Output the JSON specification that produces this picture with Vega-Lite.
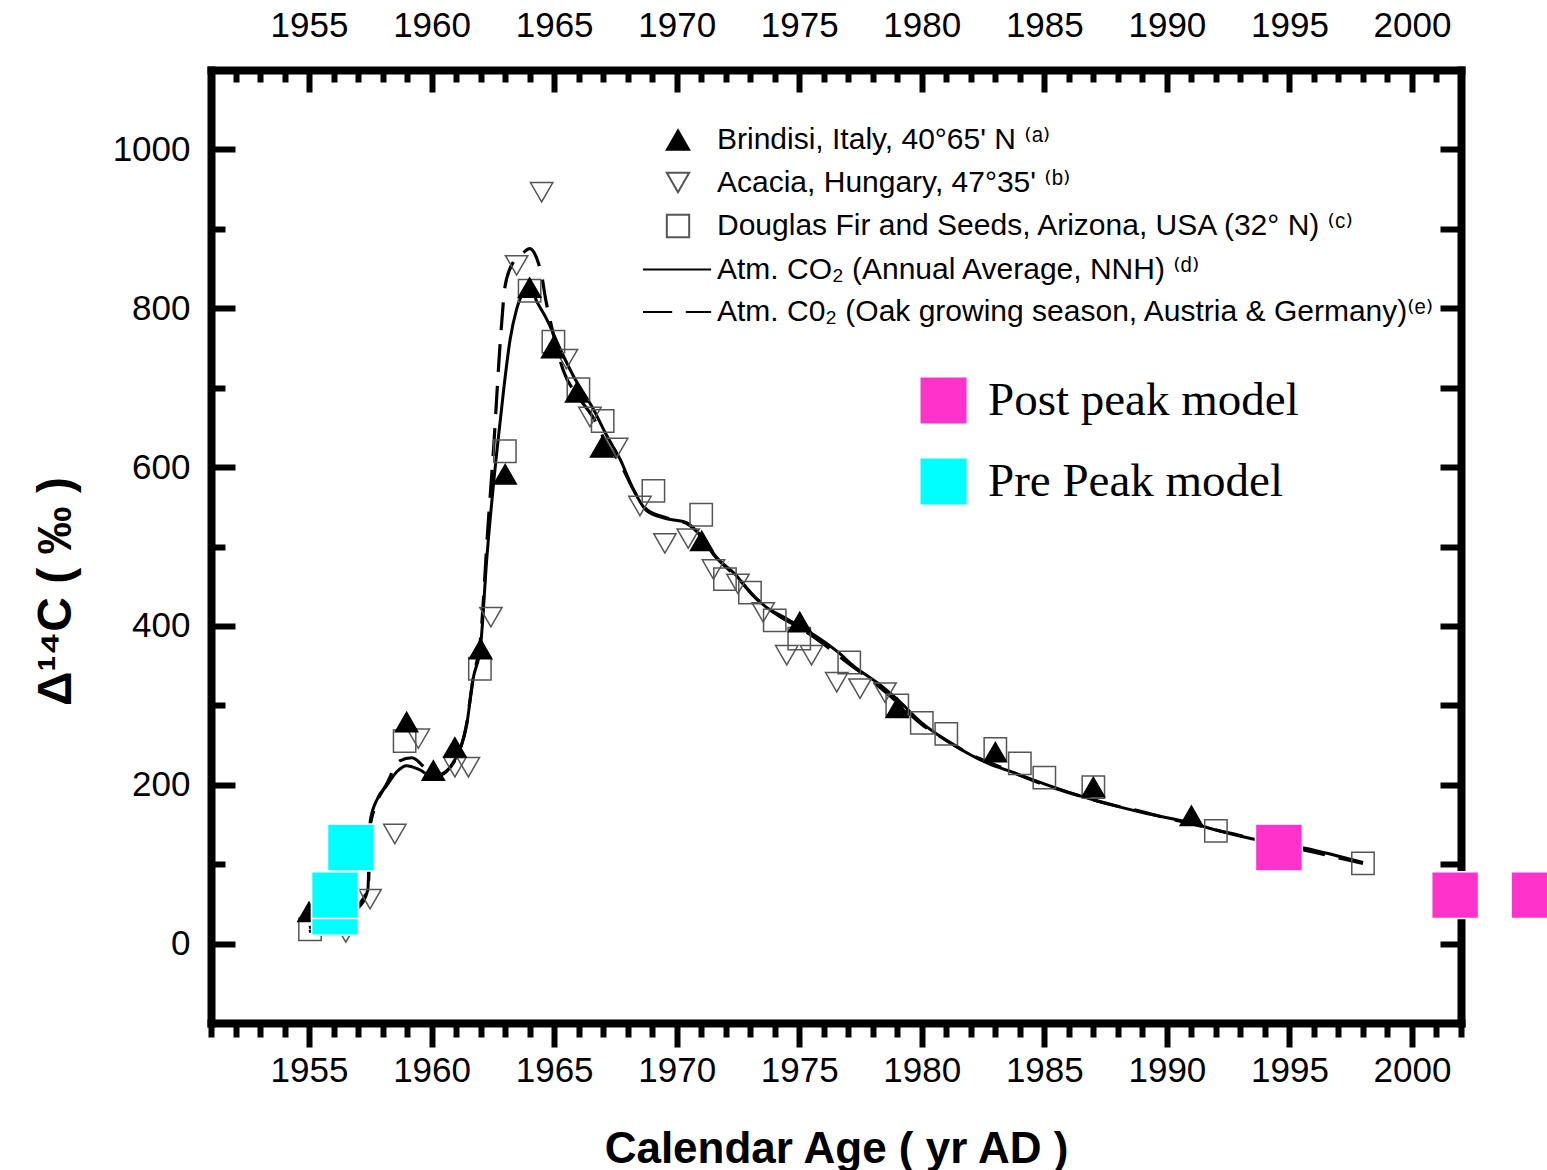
{
  "$schema": "https://vega.github.io/schema/vega-lite/v6.json",
  "usermeta": {"embedOptions": {"actions": false}},
  "width": 1250,
  "height": 953,
  "autosize": {"type": "none"},
  "padding": {"left": 211, "top": 70, "right": 86, "bottom": 147},
  "background": "white",
  "config": {
    "view": {"stroke": null},
    "axis": {
      "grid": false,
      "labelFont": "Liberation Sans",
      "labelFontSize": 35,
      "labelColor": "black",
      "labelOverlap": false,
      "labelFlush": false,
      "tickColor": "black",
      "tickWidth": 6,
      "domainColor": "black",
      "domainWidth": 8,
      "domainCap": "square",
      "titleColor": "black",
      "format": "d"
    }
  },
  "datasets": {
    "solid": [
      {"year": 1955, "d14c": 20}, {"year": 1956, "d14c": 30}, {"year": 1957, "d14c": 45},
      {"year": 1957.4, "d14c": 68}, {"year": 1957.45, "d14c": 110}, {"year": 1957.5, "d14c": 155},
      {"year": 1957.8, "d14c": 183}, {"year": 1958.17, "d14c": 199}, {"year": 1958.6, "d14c": 217},
      {"year": 1958.98, "d14c": 224}, {"year": 1959.5, "d14c": 219}, {"year": 1960.07, "d14c": 210},
      {"year": 1960.5, "d14c": 214}, {"year": 1960.9, "d14c": 229}, {"year": 1961.2, "d14c": 248},
      {"year": 1961.43, "d14c": 275}, {"year": 1961.69, "d14c": 333}, {"year": 1962.0, "d14c": 375},
      {"year": 1962.25, "d14c": 484}, {"year": 1962.66, "d14c": 619}, {"year": 1962.95, "d14c": 700},
      {"year": 1963.2, "d14c": 760}, {"year": 1963.47, "d14c": 799}, {"year": 1963.74, "d14c": 820},
      {"year": 1964.0, "d14c": 827}, {"year": 1964.3, "d14c": 808}, {"year": 1964.7, "d14c": 786},
      {"year": 1965.24, "d14c": 749}, {"year": 1965.78, "d14c": 715}, {"year": 1966.6, "d14c": 673},
      {"year": 1967.14, "d14c": 640}, {"year": 1967.69, "d14c": 610}, {"year": 1968.23, "d14c": 572},
      {"year": 1968.78, "d14c": 545}, {"year": 1969.6, "d14c": 535}, {"year": 1970.4, "d14c": 530},
      {"year": 1970.96, "d14c": 514}, {"year": 1971.5, "d14c": 490}, {"year": 1972.45, "d14c": 463},
      {"year": 1973.06, "d14c": 440}, {"year": 1973.6, "d14c": 425}, {"year": 1974.49, "d14c": 409},
      {"year": 1975.44, "d14c": 392}, {"year": 1976.66, "d14c": 365}, {"year": 1977.2, "d14c": 350},
      {"year": 1978.16, "d14c": 329}, {"year": 1978.98, "d14c": 308}, {"year": 1980.0, "d14c": 278},
      {"year": 1981.15, "d14c": 253}, {"year": 1982.78, "d14c": 226}, {"year": 1983.5, "d14c": 218},
      {"year": 1985.37, "d14c": 197}, {"year": 1987.1, "d14c": 180}, {"year": 1989.0, "d14c": 165},
      {"year": 1991.08, "d14c": 151}, {"year": 1992.0, "d14c": 143}, {"year": 1993.46, "d14c": 132},
      {"year": 1995.64, "d14c": 120}, {"year": 1998.0, "d14c": 102}
    ],
    "dashed": [
      {"year": 1955, "d14c": 15}, {"year": 1956, "d14c": 28}, {"year": 1957, "d14c": 48},
      {"year": 1957.42, "d14c": 72}, {"year": 1957.5, "d14c": 150}, {"year": 1958.2, "d14c": 203},
      {"year": 1958.7, "d14c": 230}, {"year": 1959.2, "d14c": 234}, {"year": 1959.7, "d14c": 222},
      {"year": 1960.1, "d14c": 211}, {"year": 1960.6, "d14c": 217}, {"year": 1961.0, "d14c": 234},
      {"year": 1961.4, "d14c": 272}, {"year": 1961.7, "d14c": 335}, {"year": 1962.0, "d14c": 385},
      {"year": 1962.3, "d14c": 525}, {"year": 1962.52, "d14c": 619}, {"year": 1962.8, "d14c": 757},
      {"year": 1963.0, "d14c": 828}, {"year": 1963.33, "d14c": 858}, {"year": 1963.74, "d14c": 870},
      {"year": 1964.0, "d14c": 875}, {"year": 1964.3, "d14c": 862}, {"year": 1964.5, "d14c": 840},
      {"year": 1964.65, "d14c": 812}, {"year": 1964.8, "d14c": 790}, {"year": 1965.37, "d14c": 722},
      {"year": 1966.0, "d14c": 688}, {"year": 1966.6, "d14c": 662}, {"year": 1967.1, "d14c": 632},
      {"year": 1967.7, "d14c": 604}, {"year": 1968.3, "d14c": 568}, {"year": 1968.8, "d14c": 546},
      {"year": 1969.6, "d14c": 536}, {"year": 1970.4, "d14c": 529}, {"year": 1971.0, "d14c": 513},
      {"year": 1971.6, "d14c": 487}, {"year": 1972.5, "d14c": 460}, {"year": 1973.3, "d14c": 433},
      {"year": 1974.2, "d14c": 412}, {"year": 1975.0, "d14c": 398}, {"year": 1976.0, "d14c": 377},
      {"year": 1977.0, "d14c": 353}, {"year": 1978.0, "d14c": 330}, {"year": 1979.0, "d14c": 304},
      {"year": 1980.0, "d14c": 276}, {"year": 1981.0, "d14c": 256}, {"year": 1982.0, "d14c": 238},
      {"year": 1983.0, "d14c": 225}, {"year": 1984.0, "d14c": 212}, {"year": 1985.0, "d14c": 200},
      {"year": 1986.0, "d14c": 190}, {"year": 1987.0, "d14c": 181}, {"year": 1988.0, "d14c": 173},
      {"year": 1989.0, "d14c": 166}, {"year": 1990.0, "d14c": 158}, {"year": 1991.0, "d14c": 151},
      {"year": 1992.0, "d14c": 143}, {"year": 1993.0, "d14c": 136}, {"year": 1994.0, "d14c": 128},
      {"year": 1995.0, "d14c": 122}, {"year": 1996.0, "d14c": 115}, {"year": 1997.0, "d14c": 108},
      {"year": 1998.0, "d14c": 101}
    ],
    "points": [
      {"series": "Douglas Fir and Seeds, Arizona, USA (32° N) ⁽ᶜ⁾", "year": 1955.04, "d14c": 18},
      {"series": "Douglas Fir and Seeds, Arizona, USA (32° N) ⁽ᶜ⁾", "year": 1958.9, "d14c": 255},
      {"series": "Douglas Fir and Seeds, Arizona, USA (32° N) ⁽ᶜ⁾", "year": 1961.97, "d14c": 346},
      {"series": "Douglas Fir and Seeds, Arizona, USA (32° N) ⁽ᶜ⁾", "year": 1962.99, "d14c": 620},
      {"series": "Douglas Fir and Seeds, Arizona, USA (32° N) ⁽ᶜ⁾", "year": 1964.0, "d14c": 822},
      {"series": "Douglas Fir and Seeds, Arizona, USA (32° N) ⁽ᶜ⁾", "year": 1964.97, "d14c": 758},
      {"series": "Douglas Fir and Seeds, Arizona, USA (32° N) ⁽ᶜ⁾", "year": 1965.99, "d14c": 698},
      {"series": "Douglas Fir and Seeds, Arizona, USA (32° N) ⁽ᶜ⁾", "year": 1966.98, "d14c": 658},
      {"series": "Douglas Fir and Seeds, Arizona, USA (32° N) ⁽ᶜ⁾", "year": 1969.05, "d14c": 570},
      {"series": "Douglas Fir and Seeds, Arizona, USA (32° N) ⁽ᶜ⁾", "year": 1971.0, "d14c": 540},
      {"series": "Douglas Fir and Seeds, Arizona, USA (32° N) ⁽ᶜ⁾", "year": 1971.97, "d14c": 459},
      {"series": "Douglas Fir and Seeds, Arizona, USA (32° N) ⁽ᶜ⁾", "year": 1972.99, "d14c": 442},
      {"series": "Douglas Fir and Seeds, Arizona, USA (32° N) ⁽ᶜ⁾", "year": 1974.0, "d14c": 407},
      {"series": "Douglas Fir and Seeds, Arizona, USA (32° N) ⁽ᶜ⁾", "year": 1975.0, "d14c": 384},
      {"series": "Douglas Fir and Seeds, Arizona, USA (32° N) ⁽ᶜ⁾", "year": 1977.04, "d14c": 354},
      {"series": "Douglas Fir and Seeds, Arizona, USA (32° N) ⁽ᶜ⁾", "year": 1979.0, "d14c": 300},
      {"series": "Douglas Fir and Seeds, Arizona, USA (32° N) ⁽ᶜ⁾", "year": 1980.0, "d14c": 278},
      {"series": "Douglas Fir and Seeds, Arizona, USA (32° N) ⁽ᶜ⁾", "year": 1981.0, "d14c": 264},
      {"series": "Douglas Fir and Seeds, Arizona, USA (32° N) ⁽ᶜ⁾", "year": 1983.0, "d14c": 245},
      {"series": "Douglas Fir and Seeds, Arizona, USA (32° N) ⁽ᶜ⁾", "year": 1984.0, "d14c": 227},
      {"series": "Douglas Fir and Seeds, Arizona, USA (32° N) ⁽ᶜ⁾", "year": 1985.0, "d14c": 209},
      {"series": "Douglas Fir and Seeds, Arizona, USA (32° N) ⁽ᶜ⁾", "year": 1987.0, "d14c": 197},
      {"series": "Douglas Fir and Seeds, Arizona, USA (32° N) ⁽ᶜ⁾", "year": 1992.0, "d14c": 142},
      {"series": "Douglas Fir and Seeds, Arizona, USA (32° N) ⁽ᶜ⁾", "year": 1998.0, "d14c": 101},
      {"series": "Acacia, Hungary, 47°35' ⁽ᵇ⁾", "year": 1956.5, "d14c": 14},
      {"series": "Acacia, Hungary, 47°35' ⁽ᵇ⁾", "year": 1957.49, "d14c": 56},
      {"series": "Acacia, Hungary, 47°35' ⁽ᵇ⁾", "year": 1958.5, "d14c": 138},
      {"series": "Acacia, Hungary, 47°35' ⁽ᵇ⁾", "year": 1959.46, "d14c": 258},
      {"series": "Acacia, Hungary, 47°35' ⁽ᵇ⁾", "year": 1960.95, "d14c": 222},
      {"series": "Acacia, Hungary, 47°35' ⁽ᵇ⁾", "year": 1961.5, "d14c": 222},
      {"series": "Acacia, Hungary, 47°35' ⁽ᵇ⁾", "year": 1962.42, "d14c": 411},
      {"series": "Acacia, Hungary, 47°35' ⁽ᵇ⁾", "year": 1963.47, "d14c": 854},
      {"series": "Acacia, Hungary, 47°35' ⁽ᵇ⁾", "year": 1964.49, "d14c": 946},
      {"series": "Acacia, Hungary, 47°35' ⁽ᵇ⁾", "year": 1965.5, "d14c": 736},
      {"series": "Acacia, Hungary, 47°35' ⁽ᵇ⁾", "year": 1966.46, "d14c": 663},
      {"series": "Acacia, Hungary, 47°35' ⁽ᵇ⁾", "year": 1967.55, "d14c": 624},
      {"series": "Acacia, Hungary, 47°35' ⁽ᵇ⁾", "year": 1968.5, "d14c": 551},
      {"series": "Acacia, Hungary, 47°35' ⁽ᵇ⁾", "year": 1969.52, "d14c": 504},
      {"series": "Acacia, Hungary, 47°35' ⁽ᵇ⁾", "year": 1970.47, "d14c": 510},
      {"series": "Acacia, Hungary, 47°35' ⁽ᵇ⁾", "year": 1971.5, "d14c": 471},
      {"series": "Acacia, Hungary, 47°35' ⁽ᵇ⁾", "year": 1972.5, "d14c": 453},
      {"series": "Acacia, Hungary, 47°35' ⁽ᵇ⁾", "year": 1973.53, "d14c": 417},
      {"series": "Acacia, Hungary, 47°35' ⁽ᵇ⁾", "year": 1974.49, "d14c": 363},
      {"series": "Acacia, Hungary, 47°35' ⁽ᵇ⁾", "year": 1975.5, "d14c": 363},
      {"series": "Acacia, Hungary, 47°35' ⁽ᵇ⁾", "year": 1976.53, "d14c": 329},
      {"series": "Acacia, Hungary, 47°35' ⁽ᵇ⁾", "year": 1977.48, "d14c": 321},
      {"series": "Acacia, Hungary, 47°35' ⁽ᵇ⁾", "year": 1978.5, "d14c": 316},
      {"series": "Brindisi, Italy, 40°65' N ⁽ᵃ⁾", "year": 1955.0, "d14c": 40},
      {"series": "Brindisi, Italy, 40°65' N ⁽ᵃ⁾", "year": 1958.98, "d14c": 279},
      {"series": "Brindisi, Italy, 40°65' N ⁽ᵃ⁾", "year": 1960.07, "d14c": 218},
      {"series": "Brindisi, Italy, 40°65' N ⁽ᵃ⁾", "year": 1960.95, "d14c": 247},
      {"series": "Brindisi, Italy, 40°65' N ⁽ᵃ⁾", "year": 1962.0, "d14c": 371},
      {"series": "Brindisi, Italy, 40°65' N ⁽ᵃ⁾", "year": 1963.0, "d14c": 591},
      {"series": "Brindisi, Italy, 40°65' N ⁽ᵃ⁾", "year": 1964.0, "d14c": 826},
      {"series": "Brindisi, Italy, 40°65' N ⁽ᵃ⁾", "year": 1964.94, "d14c": 750},
      {"series": "Brindisi, Italy, 40°65' N ⁽ᵃ⁾", "year": 1965.92, "d14c": 694},
      {"series": "Brindisi, Italy, 40°65' N ⁽ᵃ⁾", "year": 1966.94, "d14c": 625},
      {"series": "Brindisi, Italy, 40°65' N ⁽ᵃ⁾", "year": 1971.02, "d14c": 507},
      {"series": "Brindisi, Italy, 40°65' N ⁽ᵃ⁾", "year": 1975.02, "d14c": 405},
      {"series": "Brindisi, Italy, 40°65' N ⁽ᵃ⁾", "year": 1979.0, "d14c": 297},
      {"series": "Brindisi, Italy, 40°65' N ⁽ᵃ⁾", "year": 1983.0, "d14c": 241},
      {"series": "Brindisi, Italy, 40°65' N ⁽ᵃ⁾", "year": 1987.0, "d14c": 197},
      {"series": "Brindisi, Italy, 40°65' N ⁽ᵃ⁾", "year": 1991.0, "d14c": 161}
    ],
    "models": [
      {"model": "Pre Peak model", "year": 1956.06, "d14c": 40},
      {"model": "Pre Peak model", "year": 1956.06, "d14c": 61},
      {"model": "Pre Peak model", "year": 1956.71, "d14c": 121},
      {"model": "Post peak model", "year": 1994.57, "d14c": 121},
      {"model": "Post peak model", "year": 2001.76, "d14c": 61},
      {"model": "Post peak model", "year": 2005.0, "d14c": 61}
    ]
  },
  "resolve": {"axis": {"x": "independent", "y": "independent"}},
  "layer": [
    {
      "data": {"name": "solid"},
      "mark": {"type": "line", "color": "black", "strokeWidth": 3, "interpolate": "monotone"},
      "encoding": {
        "x": {
          "field": "year", "type": "quantitative",
          "scale": {"domain": [1951, 2002], "nice": false, "zero": false},
          "axis": {
            "orient": "bottom",
            "values": [1955, 1960, 1965, 1970, 1975, 1980, 1985, 1990, 1995, 2000],
            "tickSize": 24, "labelPadding": 34, "labelBaseline": "alphabetic",
            "title": "Calendar Age ( yr AD )",
            "titleFont": "Liberation Sans", "titleFontSize": 44, "titleFontWeight": "bold",
            "titleBaseline": "alphabetic", "titleY": 139
          }
        },
        "y": {
          "field": "d14c", "type": "quantitative",
          "scale": {"domain": [-100, 1100], "nice": false, "zero": false},
          "axis": {
            "orient": "left",
            "values": [0, 200, 400, 600, 800, 1000],
            "tickSize": -24, "labelPadding": 45,
            "title": "Δ¹⁴C  ( ‰ )",
            "titleFont": "Liberation Sans", "titleFontSize": 48, "titleFontWeight": "bold",
            "titleAngle": -90, "titleAlign": "center", "titleBaseline": "middle",
            "titleX": -155, "titleY": 521
          }
        }
      }
    },
    {
      "data": {"name": "dashed"},
      "mark": {"type": "line", "color": "black", "strokeWidth": 3.2, "strokeDash": [28, 14], "interpolate": "monotone"},
      "encoding": {
        "x": {
          "field": "year", "type": "quantitative",
          "scale": {"domain": [1951, 2002], "nice": false, "zero": false},
          "axis": {
            "orient": "top",
            "values": [1955, 1960, 1965, 1970, 1975, 1980, 1985, 1990, 1995, 2000],
            "tickSize": -22, "labelPadding": 56, "labelBaseline": "alphabetic",
            "title": null
          }
        },
        "y": {
          "field": "d14c", "type": "quantitative",
          "scale": {"domain": [-100, 1100], "nice": false, "zero": false},
          "axis": {
            "orient": "right",
            "values": [0, 100, 200, 300, 400, 500, 600, 700, 800, 900, 1000],
            "tickSize": -21, "labels": false,
            "title": null
          }
        }
      }
    },
    {
      "data": {"name": "points"},
      "mark": {"type": "point", "size": 500, "strokeWidth": 1.5, "opacity": 1},
      "encoding": {
        "x": {
          "field": "year", "type": "quantitative",
          "scale": {"domain": [1951, 2002], "nice": false, "zero": false},
          "axis": {
            "orient": "bottom",
            "values": [1951, 1952, 1953, 1954, 1956, 1957, 1958, 1959, 1961, 1962, 1963, 1964, 1966, 1967, 1968, 1969, 1971, 1972, 1973, 1974, 1976, 1977, 1978, 1979, 1981, 1982, 1983, 1984, 1986, 1987, 1988, 1989, 1991, 1992, 1993, 1994, 1996, 1997, 1998, 1999, 2001, 2002],
            "tickSize": 14, "labels": false, "domain": false, "title": null
          }
        },
        "y": {
          "field": "d14c", "type": "quantitative",
          "scale": {"domain": [-100, 1100], "nice": false, "zero": false},
          "axis": {
            "orient": "left",
            "values": [100, 300, 500, 700, 900],
            "tickSize": -14, "labels": false, "domain": false, "title": null
          }
        },
        "shape": {
          "field": "series", "type": "nominal",
          "scale": {
            "domain": ["Brindisi, Italy, 40°65' N ⁽ᵃ⁾", "Acacia, Hungary, 47°35' ⁽ᵇ⁾", "Douglas Fir and Seeds, Arizona, USA (32° N) ⁽ᶜ⁾", "Atm. CO₂ (Annual Average, NNH) ⁽ᵈ⁾", "Atm. C0₂ (Oak growing season, Austria & Germany)⁽ᵉ⁾"],
            "range": ["triangle-up", "triangle-down", "square", "M-3.13,0H2.96", "M-3.13,0H-0.52M0.7,0H2.96"]
          },
          "legend": {
            "title": null, "orient": "none", "legendX": 452, "legendY": 55, "padding": 0, "offset": 0,
            "symbolSize": 500, "symbolStrokeWidth": 2,
            "labelFont": "Liberation Sans, DejaVu Sans", "labelFontSize": 30, "labelColor": "black", "labelLimit": 0,
            "labelOffset": 24, "rowPadding": 12.5
          }
        },
        "fill": {
          "field": "series", "type": "nominal",
          "scale": {
            "domain": ["Brindisi, Italy, 40°65' N ⁽ᵃ⁾", "Acacia, Hungary, 47°35' ⁽ᵇ⁾", "Douglas Fir and Seeds, Arizona, USA (32° N) ⁽ᶜ⁾", "Atm. CO₂ (Annual Average, NNH) ⁽ᵈ⁾", "Atm. C0₂ (Oak growing season, Austria & Germany)⁽ᵉ⁾"],
            "range": ["black", "transparent", "transparent", "transparent", "transparent"]
          },
          "legend": {
            "title": null, "orient": "none", "legendX": 452, "legendY": 55, "padding": 0, "offset": 0,
            "symbolSize": 500, "symbolStrokeWidth": 2,
            "labelFont": "Liberation Sans, DejaVu Sans", "labelFontSize": 30, "labelColor": "black", "labelLimit": 0,
            "labelOffset": 24, "rowPadding": 12.5
          }
        },
        "stroke": {
          "field": "series", "type": "nominal",
          "scale": {
            "domain": ["Brindisi, Italy, 40°65' N ⁽ᵃ⁾", "Acacia, Hungary, 47°35' ⁽ᵇ⁾", "Douglas Fir and Seeds, Arizona, USA (32° N) ⁽ᶜ⁾", "Atm. CO₂ (Annual Average, NNH) ⁽ᵈ⁾", "Atm. C0₂ (Oak growing season, Austria & Germany)⁽ᵉ⁾"],
            "range": ["black", "#555555", "#555555", "black", "black"]
          },
          "legend": {
            "title": null, "orient": "none", "legendX": 452, "legendY": 55, "padding": 0, "offset": 0,
            "symbolSize": 500, "symbolStrokeWidth": 2,
            "labelFont": "Liberation Sans, DejaVu Sans", "labelFontSize": 30, "labelColor": "black", "labelLimit": 0,
            "labelOffset": 24, "rowPadding": 12.5
          }
        }
      }
    },
    {
      "data": {"name": "models"},
      "mark": {"type": "point", "shape": "square", "filled": true, "size": 2200, "opacity": 1, "stroke": "white", "strokeWidth": 1.5},
      "encoding": {
        "x": {
          "field": "year", "type": "quantitative",
          "scale": {"domain": [1951, 2002], "nice": false, "zero": false},
          "axis": {
            "orient": "top",
            "values": [1952, 1953, 1954, 1956, 1957, 1958, 1959, 1961, 1962, 1963, 1964, 1966, 1967, 1968, 1969, 1971, 1972, 1973, 1974, 1976, 1977, 1978, 1979, 1981, 1982, 1983, 1984, 1986, 1987, 1988, 1989, 1991, 1992, 1993, 1994, 1996, 1997, 1998, 1999, 2001],
            "tickSize": -12, "labels": false, "domain": false, "title": null
          }
        },
        "y": {
          "field": "d14c", "type": "quantitative",
          "scale": {"domain": [-100, 1100], "nice": false, "zero": false},
          "axis": null
        },
        "color": {
          "field": "model", "type": "nominal",
          "scale": {"domain": ["Post peak model", "Pre Peak model"], "range": ["#FF33CC", "#00FFFF"]},
          "legend": {
            "title": null, "orient": "none", "legendX": 709, "legendY": 307, "padding": 0, "offset": 0,
            "symbolType": "square", "symbolSize": 2116, "symbolStrokeWidth": 0,
            "labelFont": "Liberation Serif", "labelFontSize": 47, "labelColor": "black", "labelLimit": 0,
            "labelOffset": 21, "rowPadding": 33
          }
        }
      }
    }
  ]
}
